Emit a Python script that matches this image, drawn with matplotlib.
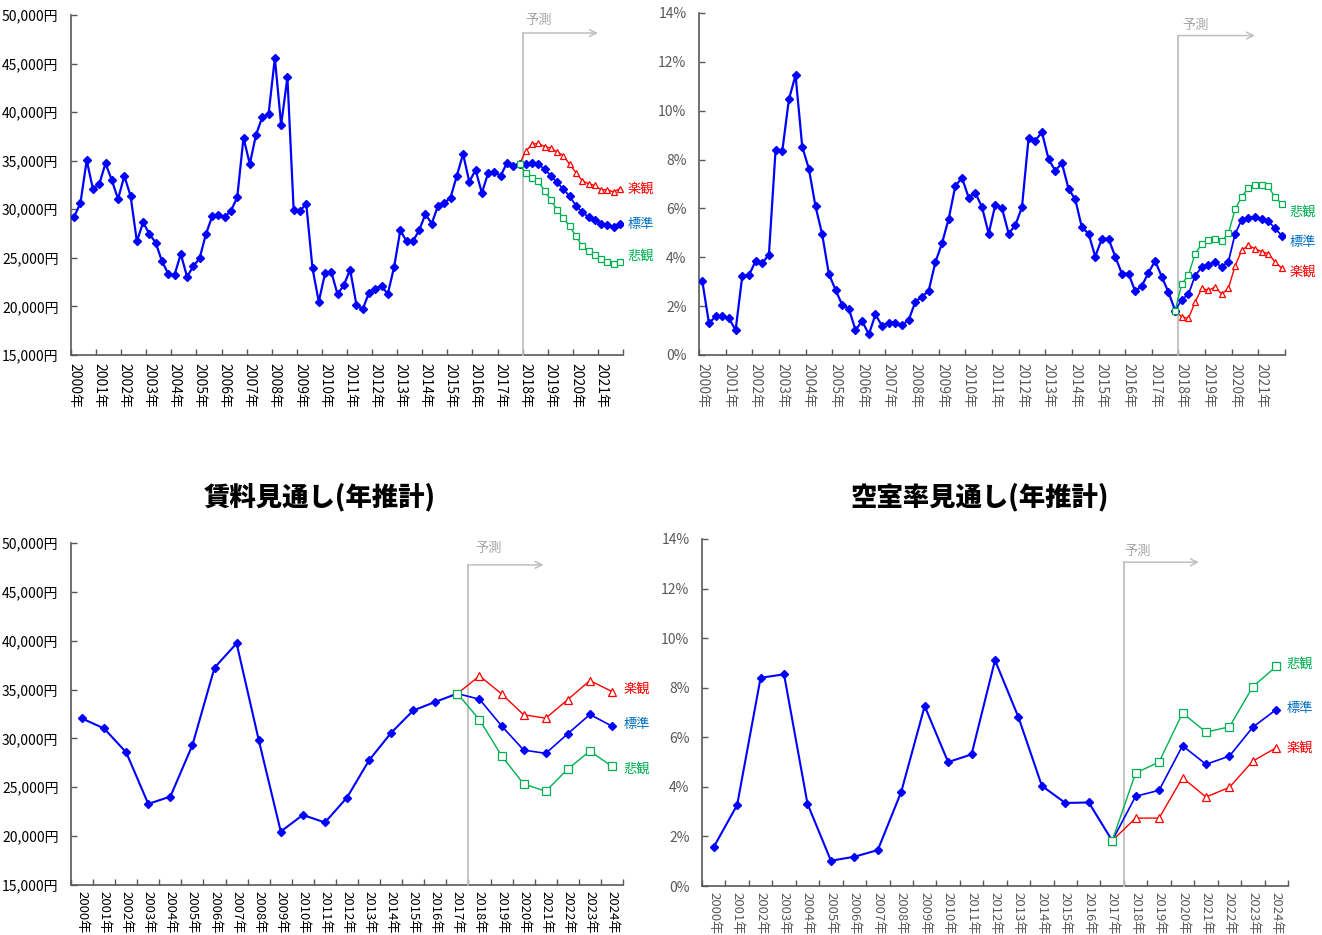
import matplotlib
matplotlib.use("Agg")
import matplotlib.pyplot as plt

plt.rcParams['font.family'] = ['Noto Sans CJK JP', 'DejaVu Sans']

W, H = 1322, 935

# ---------------- quarterly rent (yen) ----------------
rent_q_hist = [29240, 30620, 35040, 32090, 32570, 34730, 33010, 31060, 33430, 31370,
               26700, 28660, 27460, 26560, 24650, 23370, 23240, 25400, 23060, 24130,
               24950, 27420, 29270, 29370, 29200, 29850, 31230, 37370, 34660, 37680,
               39500, 39810, 45570, 38680, 43590, 29890, 29820, 30570, 23920, 20490,
               23400, 23540, 21240, 22210, 23780, 20180, 19700, 21410, 21830, 22100,
               21280, 24030, 27830, 26700, 26700, 27830, 29510, 28520, 30340, 30650,
               31190, 33430, 35690, 32840, 34040, 31680, 33730, 33840, 33430, 34800,
               34460, 34630]
rent_q_std = [34660, 34800, 34660, 34110, 33460, 32770, 32060, 31340,
              30370, 29690, 29200, 28860, 28520, 28380, 28210, 28520]
rent_q_opt = [35990, 36690, 36790, 36450, 36310, 35900, 35520, 34630,
              33770, 32940, 32630, 32460, 31990, 32020, 31780, 32120]
rent_q_pess = [33730, 33250, 32880, 31910, 30960, 29930, 29100, 28250,
               27220, 26220, 25670, 25330, 24850, 24570, 24400, 24610]

# ---------------- quarterly vacancy rate (%) ----------------
vac_q_hist = [3.02, 1.29, 1.59, 1.59, 1.50, 1.02, 3.24, 3.27, 3.84, 3.76,
              4.11, 8.39, 8.34, 10.46, 11.46, 8.53, 7.62, 6.08, 4.94, 3.32,
              2.67, 2.05, 1.90, 1.02, 1.40, 0.84, 1.66, 1.18, 1.33, 1.32,
              1.22, 1.44, 2.19, 2.38, 2.64, 3.80, 4.58, 5.58, 6.93, 7.25,
              6.44, 6.64, 6.05, 4.97, 6.15, 6.01, 4.97, 5.31, 6.05, 8.90,
              8.78, 9.12, 8.01, 7.55, 7.85, 6.80, 6.37, 5.22, 4.97, 4.03,
              4.76, 4.76, 4.03, 3.33, 3.33, 2.61, 2.83, 3.37, 3.85, 3.20,
              2.57, 1.82]
vac_q_std = [2.27, 2.48, 3.25, 3.59, 3.70, 3.80, 3.60, 3.82,
             4.95, 5.54, 5.62, 5.66, 5.56, 5.48, 5.18, 4.89]
vac_q_pess = [2.91, 3.27, 4.15, 4.54, 4.69, 4.75, 4.67, 4.98,
              5.96, 6.48, 6.83, 6.97, 6.94, 6.90, 6.46, 6.19]
vac_q_opt = [1.56, 1.50, 2.16, 2.73, 2.65, 2.78, 2.49, 2.73,
             3.64, 4.29, 4.49, 4.35, 4.23, 4.15, 3.81, 3.56]

# ---------------- annual rent (yen) ----------------
rent_a_hist = [32040, 31020, 28570, 23300, 24050, 29320, 37240, 39730, 29860,
               20470, 22170, 21400, 23950, 27760, 30580, 32860, 33740, 34590]
rent_a_std = [34010, 31290, 28810, 28470, 30480, 32450, 31260]
rent_a_opt = [36400, 34560, 32420, 32070, 33980, 35920, 34800]
rent_a_pess = [31910, 28230, 25340, 24590, 26870, 28700, 27140]

# ---------------- annual vacancy rate (%) ----------------
vac_a_hist = [1.57, 3.27, 8.40, 8.54, 3.32, 1.02, 1.18, 1.45, 3.80,
              7.26, 5.00, 5.31, 9.11, 6.81, 4.04, 3.35, 3.37, 1.83]
vac_a_std = [3.62, 3.86, 5.66, 4.91, 5.24, 6.41, 7.12]
vac_a_pess = [4.56, 5.00, 6.98, 6.21, 6.42, 8.04, 8.86]
vac_a_opt = [2.74, 2.74, 4.37, 3.59, 3.98, 5.04, 5.58]

# ---------------- axis labels ----------------
years_q = [f"{y}年" for y in range(2000, 2022)]
years_a = [f"{y}年" for y in range(2000, 2025)]
rent_ticks = [15000, 20000, 25000, 30000, 35000, 40000, 45000, 50000]
rent_labels = [f"{v:,}円" for v in rent_ticks]
vac_ticks = [0, 2, 4, 6, 8, 10, 12, 14]
vac_labels = [f"{v}%" for v in vac_ticks]

scenario_names = {"opt": "楽観", "std": "標準", "pess": "悲観"}

BLUE = "#0000FF"
RED = "#FF0000"
GREEN = "#00B050"
STD_TXT = "#0070C0"
AXIS = "#595959"
FCAST = "#BFBFBF"


def rect(l, r, t, b):
    return [l / W, 1 - b / H, (r - l) / W, (b - t) / H]


def draw_panel(ax, hist, std, opt, pess, year_labels, per_year, yticks, ylabels,
               label_color, lw_main, fc_top, fc_arrow_end, fc_text, label_dy,
               label_dx, ms_scale=1.0, xlab_size=10, xlab_pad=6):
    n_hist = len(hist)
    n_all = n_hist + len(std)
    xs_hist = list(range(n_hist))
    xs_fc = list(range(n_hist - 1, n_all))

    ax.plot(xs_hist, hist, color=BLUE, lw=lw_main, marker="D",
            ms=3.6 * ms_scale, zorder=4)
    ax.plot(xs_fc, [hist[-1]] + std, color=BLUE, lw=lw_main * 0.8, marker="D",
            ms=3.6 * ms_scale, zorder=4)
    ax.plot(xs_fc, [hist[-1]] + opt, color=RED, lw=1.0, marker="^",
            ms=5.0 * ms_scale, mfc="white", mec=RED, mew=0.9, zorder=5)
    ax.plot(xs_fc, [hist[-1]] + pess, color=GREEN, lw=1.0, marker="s",
            ms=4.6 * ms_scale, mfc="white", mec=GREEN, mew=0.9, zorder=6)

    ax.set_xlim(-0.5, n_all - 0.5)
    ax.set_ylim(yticks[0], yticks[-1])

    # tick marks at the year boundaries, year labels beside them
    bounds = [k * per_year - 0.5 for k in range(len(year_labels) + 1)]
    ax.set_xticks(bounds)
    ax.set_xticklabels([])
    ax.set_xticks([k * per_year for k in range(len(year_labels))], minor=True)
    ax.set_xticklabels(year_labels, minor=True, rotation=270, fontsize=xlab_size,
                       color=label_color, ha="center", va="top")
    ax.tick_params(axis="x", which="major", direction="in", length=4,
                   width=1, color=AXIS)
    ax.tick_params(axis="x", which="minor", length=0, pad=xlab_pad)

    ax.set_yticks(yticks)
    ax.set_yticklabels(ylabels, fontsize=10, color=label_color)
    ax.tick_params(axis="y", direction="in", length=4, width=1, color=AXIS, pad=9)

    for s in ("top", "right"):
        ax.spines[s].set_visible(False)
    for s in ("left", "bottom"):
        ax.spines[s].set_color(AXIS)
        ax.spines[s].set_linewidth(1.2)

    # forecast marker
    xb = n_hist - 0.5
    tr = ax.get_xaxis_transform()
    ax.plot([xb, xb], [0, fc_top], transform=tr, color=FCAST, lw=1.3,
            clip_on=False, zorder=3)
    ax.annotate("", xy=(fc_arrow_end, fc_top), xytext=(xb, fc_top),
                xycoords=tr, textcoords=tr,
                arrowprops=dict(arrowstyle="->", color=FCAST, lw=1.1,
                                shrinkA=0, shrinkB=0, mutation_scale=12))
    ax.text(fc_text[0], fc_text[1], "予測", transform=tr, ha="center",
            va="center", color="#A6A6A6", fontsize=9.5)

    # scenario names beside the last points
    last = n_all - 1
    for key, vals, col in (("opt", opt, RED), ("std", std, STD_TXT),
                           ("pess", pess, GREEN)):
        ax.annotate(scenario_names[key], xy=(last, vals[-1]),
                    xytext=(label_dx, label_dy[key]), textcoords="offset pixels",
                    ha="left", va="center", color=col, fontsize=9.5,
                    annotation_clip=False)


fig = plt.figure(figsize=(W / 100, H / 100), dpi=100)

ax1 = fig.add_axes(rect(71, 623, 15, 355))
draw_panel(ax1, rent_q_hist, rent_q_std, rent_q_opt, rent_q_pess, years_q, 4,
           rent_ticks, rent_labels, "black", 1.6, 0.947, 83.5, (74.1, 0.985),
           {"opt": 0, "std": -1, "pess": 5}, 8)

ax2 = fig.add_axes(rect(699, 1285, 13, 355))
draw_panel(ax2, vac_q_hist, vac_q_std, vac_q_opt, vac_q_pess, years_q, 4,
           vac_ticks, vac_labels, AXIS, 1.6, 0.934, 83.0, (74.1, 0.965),
           {"opt": -4, "std": -7, "pess": -8}, 8)

ax3 = fig.add_axes(rect(71, 623, 543, 885))
draw_panel(ax3, rent_a_hist, rent_a_std, rent_a_opt, rent_a_pess, years_a, 1,
           rent_ticks, rent_labels, "black", 1.5, 0.936, 20.9, (18.4, 0.985),
           {"opt": 2, "std": 2, "pess": -3}, 12, ms_scale=1.1,
           xlab_size=9.5, xlab_pad=4)

ax4 = fig.add_axes(rect(702, 1288, 539, 886))
draw_panel(ax4, vac_a_hist, vac_a_std, vac_a_opt, vac_a_pess, years_a, 1,
           vac_ticks, vac_labels, AXIS, 1.5, 0.933, 20.7, (18.1, 0.963),
           {"opt": 0, "std": 1, "pess": 2}, 10, ms_scale=1.1,
           xlab_size=9.5, xlab_pad=4)

fig.text(320 / W, 1 - 497 / H, "賃料見通し(年推計)", ha="center", va="center",
         fontsize=19, fontweight="black")
fig.text(980 / W, 1 - 497 / H, "空室率見通し(年推計)", ha="center", va="center",
         fontsize=19, fontweight="black")

fig.savefig("out.png", dpi=100)
